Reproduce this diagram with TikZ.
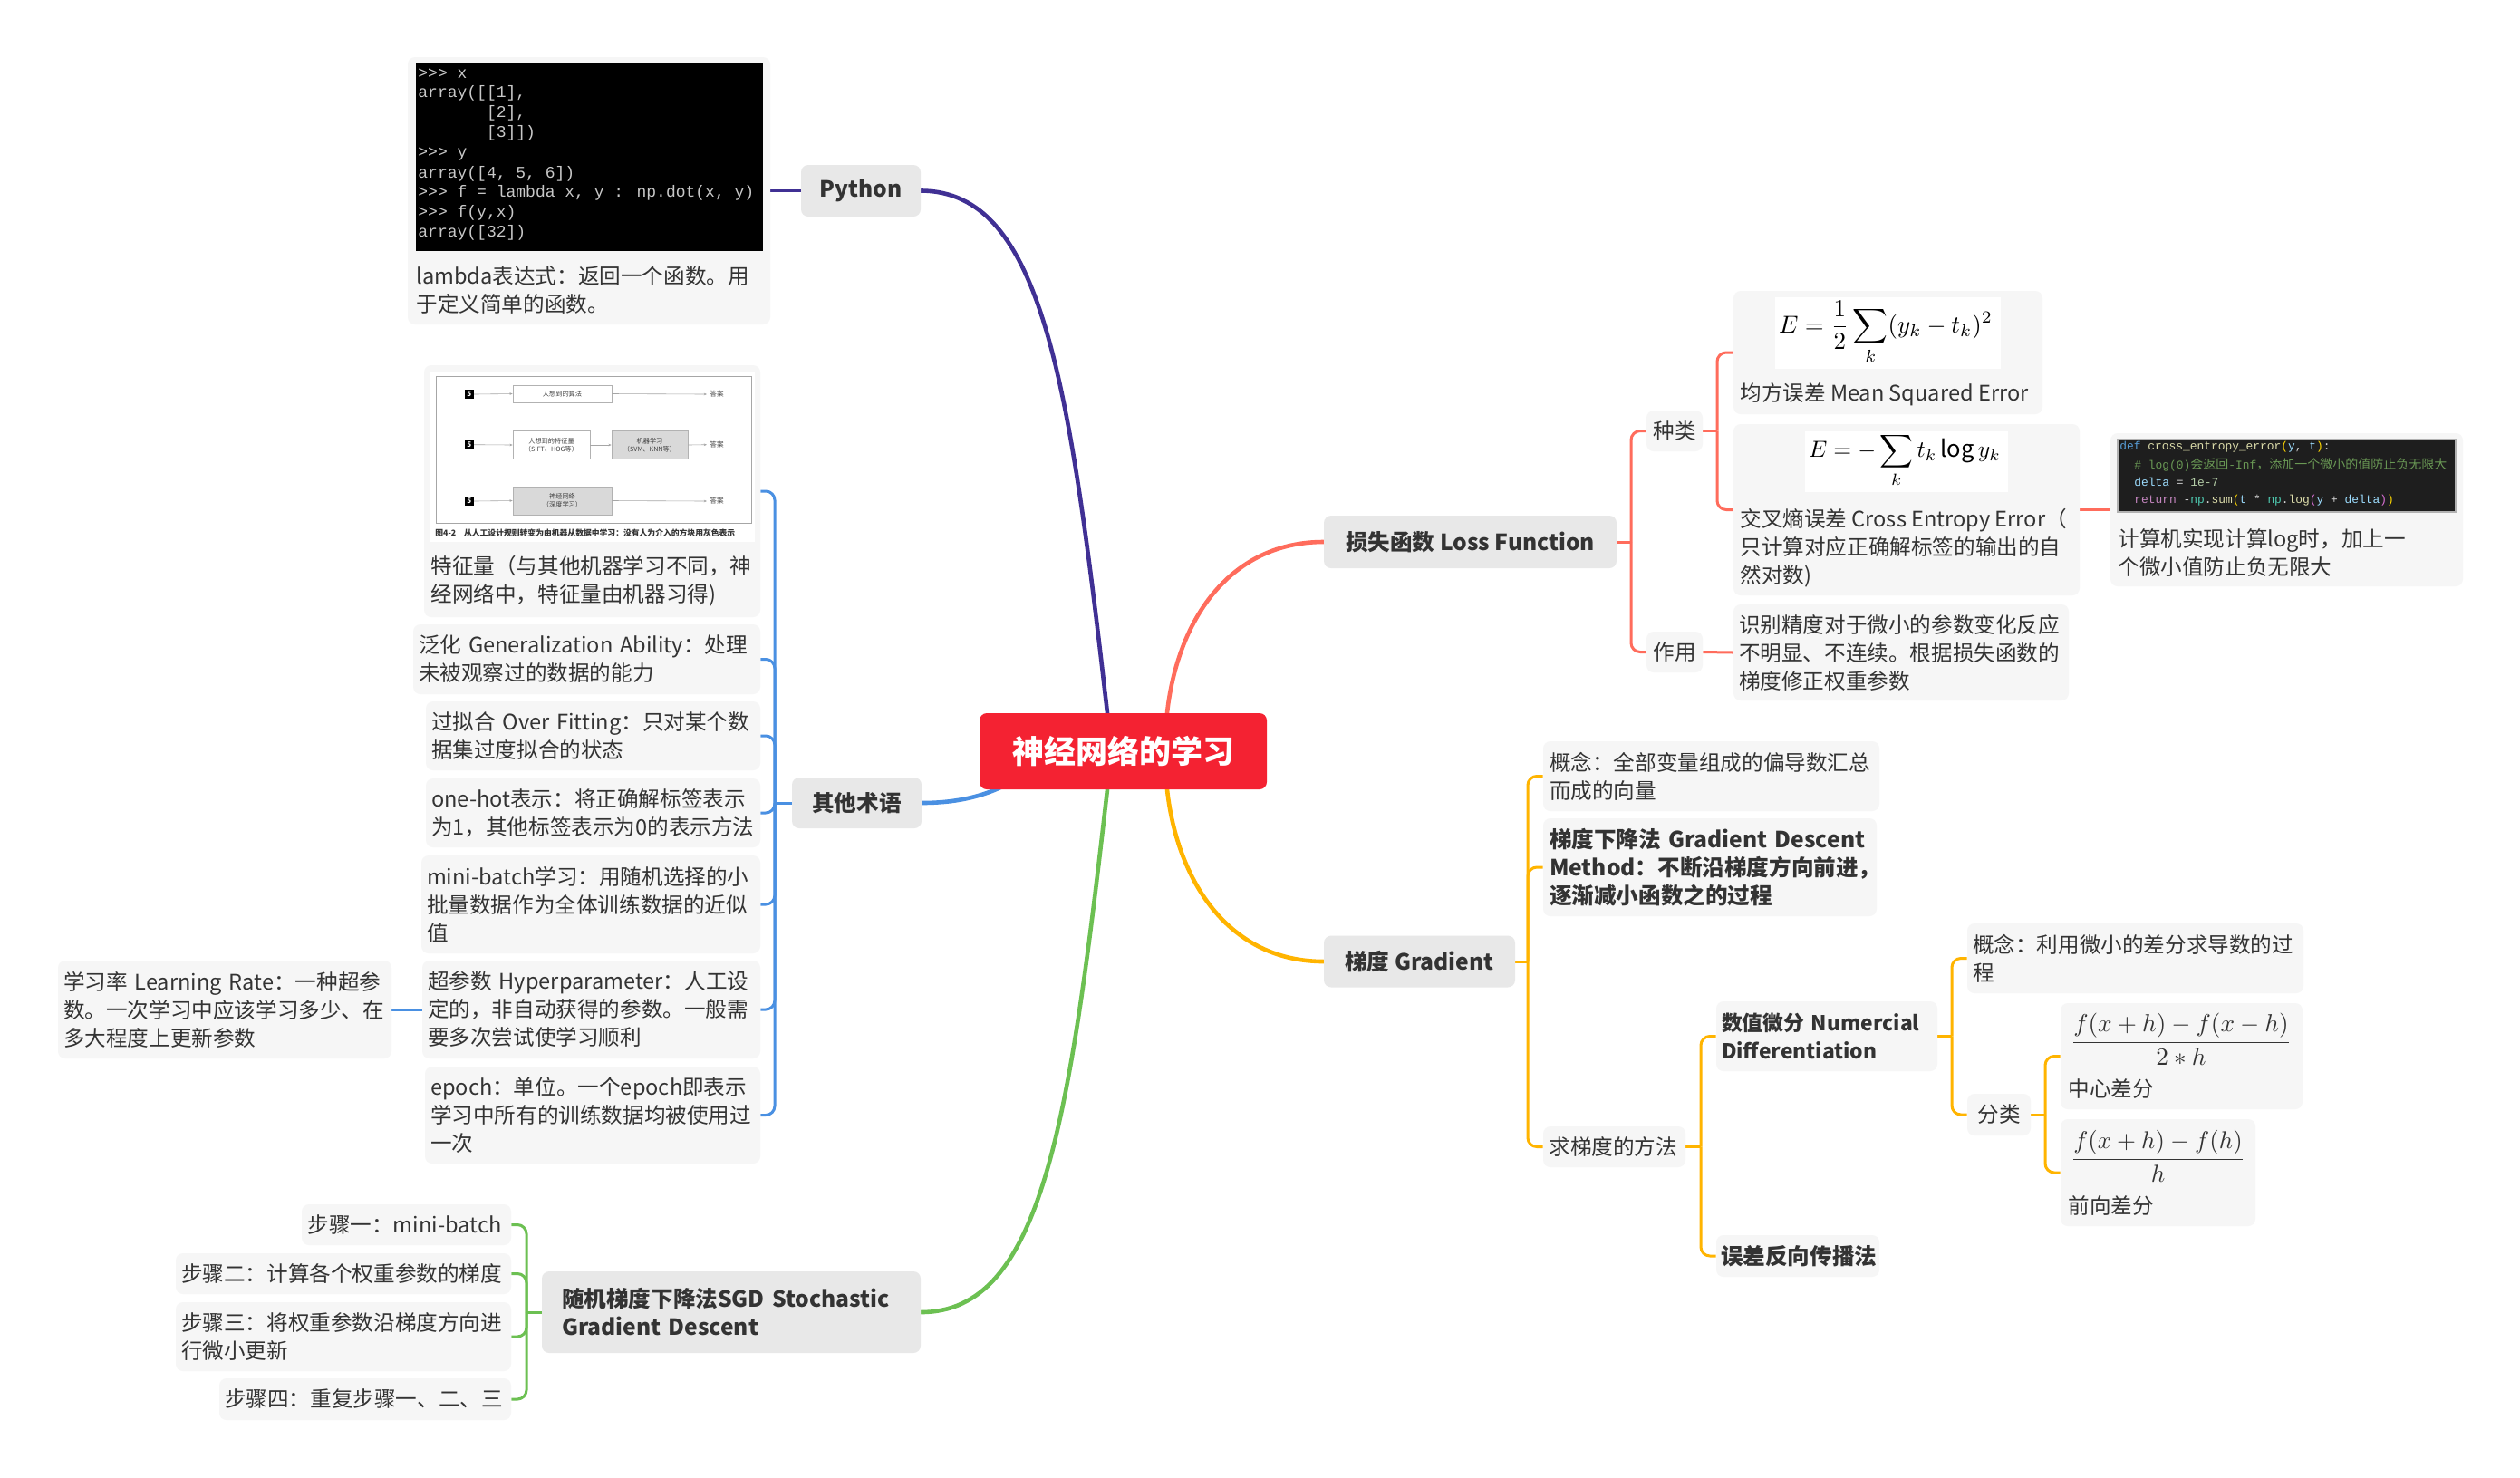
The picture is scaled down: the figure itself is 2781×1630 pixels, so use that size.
\documentclass[tikz,border=0pt]{standalone}
\usepackage{fontspec}
\usepackage{graphicx}
\setmainfont{Noto Sans CJK SC}
\newfontfamily\codefont{Liberation Mono}
\newfontfamily\cjkfont{Noto Sans CJK SC}
\usetikzlibrary{arrows.meta}
\hyphenpenalty=10000
\exhyphenpenalty=10000
\definecolor{textc}{RGB}{51,51,51}
\definecolor{mainfill}{RGB}{232,232,232}
\definecolor{cardfill}{RGB}{246,246,246}
\definecolor{rootred}{RGB}{244,34,50}
\definecolor{cpurple}{RGB}{64,48,148}
\definecolor{ccoral}{RGB}{255,108,92}
\definecolor{camber}{RGB}{255,180,0}
\definecolor{cblue}{RGB}{74,144,226}
\definecolor{cgreen}{RGB}{108,192,82}
\definecolor{codegray}{RGB}{200,200,200}
\definecolor{vsbg}{RGB}{30,30,30}
\definecolor{kwblue}{RGB}{86,156,214}
\definecolor{fnyellow}{RGB}{220,220,170}
\definecolor{brgold}{RGB}{255,215,0}
\definecolor{brpink}{RGB}{218,112,214}
\definecolor{varblue}{RGB}{156,220,254}
\definecolor{cmtgreen}{RGB}{106,153,85}
\definecolor{numgreen}{RGB}{181,206,168}
\definecolor{kwpurple}{RGB}{197,134,192}
\definecolor{modteal}{RGB}{78,201,176}
\definecolor{opwhite}{RGB}{212,212,212}
\pgfdeclarelayer{bg}
\pgfsetlayers{bg,main}
\newcommand\fs{\fontsize{11.8}{15.5}\selectfont}
\newcommand\fsb{\fontsize{12.3}{15.5}\selectfont\bfseries}
\tikzset{
  mainnode/.style={fill=mainfill, rounded corners=4pt, text=textc, font=\fsb, inner sep=0pt, align=center},
  rootnode/.style={fill=rootred, rounded corners=4pt, text=white, font=\fontsize{17.5}{20}\selectfont\bfseries, inner sep=0pt},
  card/.style={fill=cardfill, rounded corners=4pt, text=textc, font=\fs, inner sep=0pt, align=left},
  bcard/.style={card, font=\fsb},
  ccard/.style={card, align=center},
  txt/.style={text=textc, font=\fs, inner sep=0pt, align=left, anchor=west},
  mainline/.style={line width=2.3pt, line cap=round},
  subline/.style={line width=1.5pt, rounded corners=5pt},
  pycode/.style={anchor=west, inner sep=0pt, text=codegray, font=\codefont\fontsize{9}{10}\selectfont},
  vscode/.style={anchor=west, inner sep=0pt, text=opwhite, font=\codefont\fontsize{6.45}{7}\selectfont},
  figbox/.style={draw=gray!60, line width=0.3pt, inner sep=0pt, font=\fontsize{3.6}{4.6}\selectfont, text=black!75, align=center},
  figgray/.style={figbox, fill=black!15},
  figtxt/.style={inner sep=0pt, font=\fontsize{3.8}{4.6}\selectfont, text=black!75},
  figsq/.style={fill=black, minimum size=5pt, inner sep=0pt, text=white, font=\fontsize{4}{4}\selectfont\bfseries},
  figarrow/.style={draw=gray!70, line width=0.3pt, -{Stealth[length=1.6pt,width=1.3pt]}},
  fwhite/.style={fill=white, inner sep=0pt}
}
\newcommand\cj[1]{{\cjkfont\fontsize{7}{7}\selectfont #1}}
\begin{document}
\begin{tikzpicture}[x=0.5pt, y=-0.5pt]
\useasboundingbox (0,0) rectangle (2781,1630);

% ---------- root and main nodes
\node[rootnode, minimum width=158.5pt, minimum height=42pt] (root) at (1239.5,829) {神经网络的学习};
\node[mainnode, minimum width=66pt, minimum height=28.5pt] (python) at (950,210.5) {Python};
\node[mainnode, minimum width=161.5pt, minimum height=29pt] (loss) at (1622.5,598) {损失函数~Loss~Function};
\node[mainnode, minimum width=105.5pt, minimum height=28.5pt] (grad) at (1566.5,1061) {梯度~Gradient};
\node[mainnode, minimum width=71.5pt, minimum height=28pt] (other) at (945.5,886) {其他术语};
\node[mainnode, minimum width=209pt, minimum height=45pt, text width=187pt, align=left] (sgd) at (807,1448) {\mbox{随机梯度下降法SGD Stochastic}\\Gradient~Descent};

% ---------- Python card
\node[card, minimum width=200pt, minimum height=147.5pt] (pycard) at (650,210.5) {};
\node[fill=black, minimum width=191.5pt, minimum height=103.5pt, inner sep=0pt] (pyimg) at (650.5,173.5) {};
\node[pycode] (py1) at (461,81.7) {>>> x};
\node[pycode] (py2) at (461,103.3) {array([[1],};
\node[pycode] (py3) at (461,125) {\phantom{array([}[2],};
\node[pycode] (py4) at (461,146.7) {\phantom{array([}[3]])};
\node[pycode] (py5) at (461,170) {>>> y};
\node[pycode] (py6) at (461,191.7) {array([4, 5, 6])};
\node[pycode] (py7) at (461,213.3) {>>> f = lambda x, y : np.dot(x, y)};
\node[pycode] (py8) at (461,235) {>>> f(y,x)};
\node[pycode] (py9) at (461,256.7) {array([32])};
\node[txt] (pycap) at (459,320) {lambda表达式：返回一个函数。用\\于定义简单的函数。};

% ---------- Loss function branch
\node[ccard, minimum width=31pt, minimum height=22.5pt] (zhonglei) at (1848,475.5) {种类};
\node[ccard, minimum width=31pt, minimum height=22.5pt] (zuoyong) at (1848,719.5) {作用};
\node[card, minimum width=170.5pt, minimum height=68pt] (mse) at (2083.5,389) {};
\node[fwhite, minimum width=124.5pt, minimum height=39.5pt] (msebox) at (2083.5,367.5) {};
\node[inner sep=0pt, text=black] (msef) at (2081,367) {\resizebox{118pt}{!}{$\displaystyle E=\frac{1}{2}\sum_{k}(y_k-t_k)^2$}};
\node[txt] (msecap) at (1920,435) {均方误差~Mean~Squared~Error};
\node[card, minimum width=191pt, minimum height=94.5pt] (ce) at (2104,562.5) {};
\node[fwhite, minimum width=112pt, minimum height=33.5pt] (cebox) at (2104,509.5) {};
\node[inner sep=0pt, text=black] (cef) at (2102,508) {\resizebox{106pt}{!}{$\displaystyle E=-\sum_{k}t_k\log y_k$}};
\node[txt] (cecap) at (1920,604.5) {交叉熵误差~Cross~Entropy~Error（\\只计算对应正确解标签的输出的自\\然对数)};
\node[card, minimum width=185pt, minimum height=53pt, text width=179pt] (zydesc) at (2098,720) {识别精度对于微小的参数变化反应\\不明显、不连续。根据损失函数的\\梯度修正权重参数};
\node[card, minimum width=194.5pt, minimum height=84.5pt] (codecard) at (2523.5,562.5) {};
\node[fill=vsbg, draw=gray!60, line width=0.6pt, minimum width=186.5pt, minimum height=40pt, inner sep=0pt] (codeimg) at (2523.5,525) {};
\node[vscode] (cl1) at (2339,493) {{\color{kwblue}def}\ {\color{fnyellow}cross\_entropy\_error}{\color{brgold}(}{\color{varblue}y}, {\color{varblue}t}{\color{brgold})}:};
\node[vscode, text=cmtgreen] (cl2) at (2355,513) {\# log(0)\cj{会返回}-Inf\cj{，添加一个微小的值防止负无限大}};
\node[vscode] (cl3) at (2355,532) {{\color{varblue}delta} = {\color{numgreen}1e-7}};
\node[vscode] (cl4) at (2355,552) {{\color{kwpurple}return} -{\color{modteal}np}.{\color{fnyellow}sum}{\color{brgold}(}{\color{varblue}t} * {\color{modteal}np}.{\color{fnyellow}log}{\color{brpink}(}{\color{varblue}y} + {\color{varblue}delta}{\color{brpink})}{\color{brgold})}};
\node[txt] (codecap) at (2337,610) {计算机实现计算log时，加上一\\个微小值防止负无限大};

% ---------- Gradient branch
\node[card, minimum width=185.5pt, minimum height=38.5pt, text width=178.5pt] (gconcept) at (1888.5,856.5) {概念：全部变量组成的偏导数汇总\\而成的向量};
\node[bcard, minimum width=184pt, minimum height=54pt, text width=177pt] (gd) at (1887,957) {\mbox{梯度下降法 Gradient Descent}\\\mbox{Method：不断沿梯度方向前进，}\\逐渐减小函数之的过程};
\node[card, minimum width=78.5pt, minimum height=22.5pt, text width=72pt] (qiu) at (1781.5,1265.5) {求梯度的方法};
\node[bcard, font=\fontsize{11.4}{15.5}\selectfont\bfseries, minimum width=122pt, minimum height=38.5pt, text width=116pt] (shuzhi) at (2016,1143.5) {\mbox{数值微分 Numercial}\\\mbox{Differentiation}};
\node[bcard, minimum width=90pt, minimum height=23pt, text width=85pt] (wucha) at (1984,1386) {误差反向传播法};
\node[card, minimum width=185.5pt, minimum height=38.5pt, text width=179.5pt] (gconcept2) at (2356.5,1057.5) {概念：利用微小的差分求导数的过\\程};
\node[ccard, minimum width=35pt, minimum height=23pt] (fenlei) at (2206,1230) {分类};
\node[card, minimum width=133.5pt, minimum height=58.5pt] (central) at (2407.5,1165.5) {};
\node[inner sep=0pt, text=textc] (cf) at (2407,1147) {\resizebox{122pt}{!}{$\displaystyle\frac{f(x+h)-f(x-h)}{2*h}$}};
\node[txt] (ccap) at (2282,1202) {中心差分};
\node[card, minimum width=107.5pt, minimum height=59pt] (forward) at (2381.5,1294) {};
\node[inner sep=0pt, text=textc] (ff) at (2381.5,1276) {\resizebox{96.5pt}{!}{$\displaystyle\frac{f(x+h)-f(h)}{h}$}};
\node[txt] (fcap) at (2282,1330) {前向差分};

% ---------- Other terms branch
\node[card, minimum width=185.5pt, minimum height=139pt] (feat) at (653.5,542) {};
\node[fwhite, minimum width=179pt, minimum height=94pt] (featimg) at (654,504) {};
\node[draw=gray!70, line width=0.4pt, minimum width=174pt, minimum height=81pt, inner sep=0pt] (frame) at (655,496) {};
\node[figsq] (sq1) at (517.7,435) {5};
\node[figsq] (sq2) at (517.7,490.7) {5};
\node[figsq] (sq3) at (517.7,553) {5};
\node[figbox, minimum width=54.5pt, minimum height=9.5pt] (fb1) at (620.5,434.5) {人想到的算法};
\node[figbox, minimum width=42.5pt, minimum height=15.5pt] (fb2a) at (608.5,491) {人想到的特征量\\（SIFT、HOG等）};
\node[figgray, minimum width=42pt, minimum height=15.5pt] (fb2b) at (717,491) {机器学习\\（SVM、KNN等）};
\node[figgray, minimum width=54.5pt, minimum height=15.5pt] (fb3) at (620.5,552.5) {神经网络\\（深度学习）};
\node[figtxt] (an1) at (791,435) {答案};
\node[figtxt] (an2) at (791,490.7) {答案};
\node[figtxt] (an3) at (791,553) {答案};
\node[inner sep=0pt, anchor=west, font=\fontsize{4.4}{5}\selectfont\bfseries, text=black!80] (figcap) at (480,588) {图4-2\quad 从人工设计规则转变为由机器从数据中学习：没有人为介入的方块用灰色表示};
\draw[figarrow] (sq1.east) -- (fb1.west);
\draw[figarrow] (fb1.east) -- ([xshift=-1.5pt]an1.west);
\draw[figarrow] (sq2.east) -- (fb2a.west);
\draw[figarrow] (fb2a.east) -- (fb2b.west);
\draw[figarrow] (fb2b.east) -- ([xshift=-1.5pt]an2.west);
\draw[figarrow] (sq3.east) -- (fb3.west);
\draw[figarrow] (fb3.east) -- ([xshift=-1.5pt]an3.west);
\node[txt] (featcap) at (475,641) {特征量（与其他机器学习不同，神\\经网络中，特征量由机器习得)};

\node[card, minimum width=191.5pt, minimum height=38.5pt, text width=185.5pt] (fanhua) at (647.5,727.5) {\mbox{泛化 Generalization Ability：处理}\\未被观察过的数据的能力};
\node[card, minimum width=184.5pt, minimum height=38pt, text width=178.5pt] (guonihe) at (654.5,812) {\mbox{过拟合 Over Fitting：只对某个数}\\据集过度拟合的状态};
\node[card, minimum width=184.5pt, minimum height=38pt, text width=178.5pt] (onehot) at (654.5,897) {one-hot表示：将正确解标签表示\\为1，其他标签表示为0的表示方法};
\node[card, minimum width=187pt, minimum height=54pt, text width=181pt] (minibatch) at (652,998) {mini-batch学习：用随机选择的小\\批量数据作为全体训练数据的近似\\值};
\node[card, minimum width=186.5pt, minimum height=54pt, text width=180.5pt] (chaocan) at (652.5,1114) {\mbox{超参数 Hyperparameter：人工设}\\定的，非自动获得的参数。一般需\\要多次尝试使学习顺利};
\node[card, minimum width=185pt, minimum height=53.5pt, text width=179pt] (epoch) at (654,1230.5) {epoch：单位。一个epoch即表示\\学习中所有的训练数据均被使用过\\一次};
\node[card, minimum width=184pt, minimum height=54pt, text width=178pt] (xuexilv) at (248,1114) {\mbox{学习率 Learning Rate：一种超参}\\数。一次学习中应该学习多少、在\\多大程度上更新参数};

% ---------- SGD branch
\node[card, minimum width=115.5pt, minimum height=22.5pt, text width=109pt] (step1) at (448.5,1351.5) {步骤一：mini-batch};
\node[card, minimum width=185pt, minimum height=22.5pt, text width=179pt] (step2) at (379,1405.5) {步骤二：计算各个权重参数的梯度};
\node[card, minimum width=185pt, minimum height=38pt, text width=179pt] (step3) at (379,1475) {步骤三：将权重参数沿梯度方向进\\行微小更新};
\node[card, minimum width=161pt, minimum height=23pt, text width=155pt] (step4) at (403,1544) {步骤四：重复步骤一、二、三};

% ---------- connectors
\coordinate (lt) at (1800,598);
\coordinate (zt) at (1895,475.5);
\coordinate (gt) at (1686,1061);
\coordinate (qt) at (1877,1265.5);
\coordinate (st) at (2154,1143.5);
\coordinate (ft) at (2257,1230);
\coordinate (ot) at (855,886);
\coordinate (sgt) at (581,1448);

\begin{pgfonlayer}{bg}
\fill[white] (0,0) rectangle (2781,1630);
% main curves
\draw[cpurple, mainline] (python.east) .. controls (1150,211) and (1180,420) .. ([xshift=-8.75pt]root.north);
\draw[ccoral, mainline] ([xshift=24.25pt]root.north) .. controls (1300,680) and (1360,598) .. (loss.west);
\draw[camber, mainline] ([xshift=24.25pt]root.south) .. controls (1300,978) and (1360,1061) .. (grad.west);
\draw[cgreen, mainline] ([xshift=-8.75pt]root.south) .. controls (1180,1240) and (1150,1448) .. (sgd.east);
\draw[cblue, mainline] (other.east) .. controls (1060,886) and (1090,877) .. ([xshift=-62pt,yshift=4pt]root.south);
% python
\draw[cpurple, subline] (pycard.east) -- (python.west);
% loss
\draw[ccoral, subline] (loss.east) -- (lt);
\draw[ccoral, subline] (zhonglei.west) -| (lt);
\draw[ccoral, subline] (zuoyong.west) -| (lt);
\draw[ccoral, subline] (zhonglei.east) -- (zt);
\draw[ccoral, subline] (mse.west) -| (zt);
\draw[ccoral, subline] (ce.west) -| (zt);
\draw[ccoral, subline] (zuoyong.east) -- (zydesc.west);
\draw[ccoral, subline] (ce.east) -- (codecard.west);
% gradient
\draw[camber, subline] (grad.east) -- (gt);
\draw[camber, subline] (gconcept.west) -| (gt);
\draw[camber, subline] (gd.west) -| (gt);
\draw[camber, subline] (qiu.west) -| (gt);
\draw[camber, subline] (qiu.east) -- (qt);
\draw[camber, subline] (shuzhi.west) -| (qt);
\draw[camber, subline] (wucha.west) -| (qt);
\draw[camber, subline] (shuzhi.east) -- (st);
\draw[camber, subline] (gconcept2.west) -| (st);
\draw[camber, subline] (fenlei.west) -| (st);
\draw[camber, subline] (fenlei.east) -- (ft);
\draw[camber, subline] (central.west) -| (ft);
\draw[camber, subline] (forward.west) -| (ft);
% other terms
\draw[cblue, subline] (other.west) -- (ot);
\draw[cblue, subline] (feat.east) -| (ot);
\draw[cblue, subline] (fanhua.east) -| (ot);
\draw[cblue, subline] (guonihe.east) -| (ot);
\draw[cblue, subline] (onehot.east) -| (ot);
\draw[cblue, subline] (minibatch.east) -| (ot);
\draw[cblue, subline] (chaocan.east) -| (ot);
\draw[cblue, subline] (epoch.east) -| (ot);
\draw[cblue, subline] (chaocan.west) -- (xuexilv.east);
% sgd
\draw[cgreen, subline] (sgd.west) -- (sgt);
\draw[cgreen, subline] (step1.east) -| (sgt);
\draw[cgreen, subline] (step2.east) -| (sgt);
\draw[cgreen, subline] (step3.east) -| (sgt);
\draw[cgreen, subline] (step4.east) -| (sgt);
\end{pgfonlayer}
\end{tikzpicture}
\end{document}
